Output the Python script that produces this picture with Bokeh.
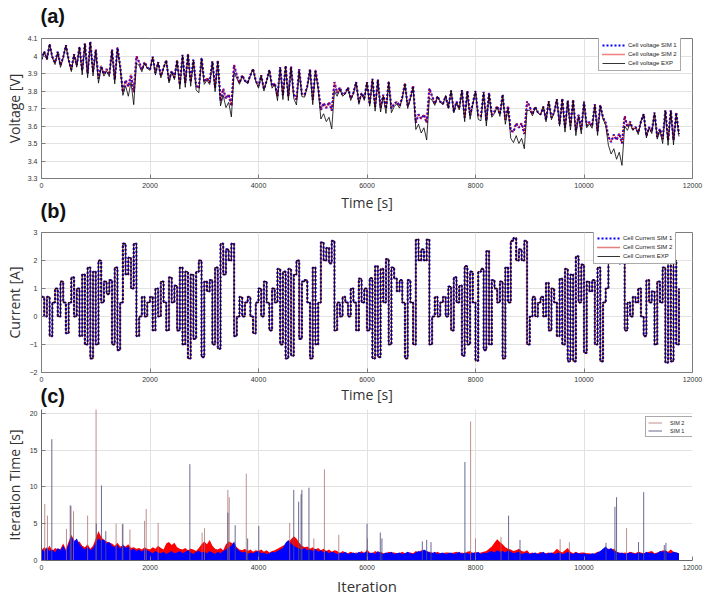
import numpy as np
from bokeh.plotting import figure
from bokeh.layouts import column
from bokeh.models import Range1d, FixedTicker, Legend, LegendItem
from bokeh.embed import file_html
from bokeh.resources import INLINE

# ---------------- data ----------------
time_s = np.arange(0, 11751, 50)          # sample times [s]
iteration = np.arange(0, 11751, 50)       # iteration index samples

current_exp = [
    0.7, 0, 0.7, -0.7, 0.5, 1.0, 0, 1.25, 0.5, -0.6,
    0.5, 1.4, 0, 1.0, -0.7, 1.5, -1.0, 1.75, -1.5, 1.6,
    -1.0, 2.0, 0.5, 1.25, 0.8, 1.3, -1.0, 1.75, -1.2, 0.5,
    2.6, 1.5, 2.1, 1.0, 2.6, -0.7, 0, 0.7, 0, 0.5,
    0.7, -0.5, 1.0, 0, 1.25, 0.5, -0.5, 1.4, 0.5, 1.1,
    -0.5, 1.75, -1.0, 1.6, -1.5, 1.5, -0.8, 1.6, 2.0, -1.45,
    1.25, 0.9, 1.3, -1.0, 1.75, -1.15, 2.6, 1.5, 2.4, 2.0,
    2.6, -0.7, 0, 0.7, 0, 0.5, 0.7, 0, -0.6, 0.5,
    1.0, 0, 1.25, 0.5, -0.5, 1.0, 0.5, 1.7, -1.0, 1.6,
    -1.5, 1.7, -1.4, 1.5, 2.0, -0.8, 1.25, 1.3, 0.5, -1.5,
    1.75, -1.0, 0.5, 2.65, 2.0, 2.45, 1.9, 2.7, -0.5, 0.5,
    0, 0.7, 0.5, 0, 1.0, 0.5, -0.5, 1.35, 0.5, 1.0,
    -0.5, 1.37, -1.5, 1.8, -1.45, 1.7, 0.5, 2.05, -1.0, 1.75,
    1.35, 0.9, 1.3, 0.5, -1.5, 1.3, 0.5, -1.0, 2.75, 2.0,
    2.4, 2.0, 2.75, -1.0, 0, 0.7, 0, 0.5, 0.7, 0,
    1.07, -0.5, 1.4, 0.5, 1.1, -1.4, 1.8, -1.0, 1.6, 0.5,
    -1.58, 1.6, 1.7, -1.2, 2.34, -1.0, 1.3, 1.0, 0.5, 1.25,
    -1.5, 1.75, 0.5, 2.7, 2.8, 2.0, 2.4, 2.0, 2.7, -1.0,
    0, 0.7, 0, 0.5, 0.7, 0, 1.2, -0.5, 1.0, 0.5,
    -0.7, 1.35, -1.0, 1.7, -1.6, 1.5, -1.6, 2.15, 0.5, 1.85,
    -1.3, 1.25, 0.9, 1.3, -1.0, 1.75, -1.6, 0.5, 1.0, 2.2,
    2.7, 2.0, 2.5, 1.9, 2.8, -0.5, 0.5, 0, 0.7, 0.5,
    1.0, 0, -0.7, 1.3, 0.5, 0.9, -1.0, 1.25, 0.5, 1.75,
    -1.65, 2.1, -1.6, 2.0, -1.0, 1.0,
]
# both simulations are driven by the measured current
current_sim1 = list(current_exp)
current_sim2 = list(current_exp)

voltage_sim1 = [
    3.982, 4.025, 3.982, 4.068, 3.994, 3.963, 4.025, 3.947, 3.994, 4.062,
    3.979, 3.923, 4.010, 3.948, 4.053, 3.917, 4.072, 3.901, 4.082, 3.911,
    4.037, 3.870, 3.944, 3.897, 3.925, 3.894, 4.037, 3.866, 4.049, 3.944,
    3.794, 3.862, 3.825, 3.893, 3.794, 3.998, 3.965, 3.922, 3.965, 3.934,
    3.922, 3.996, 3.903, 3.965, 3.887, 3.934, 3.976, 3.858, 3.914, 3.877,
    3.976, 3.836, 4.007, 3.846, 4.012, 3.852, 3.980, 3.831, 3.815, 3.990,
    3.852, 3.874, 3.849, 3.970, 3.821, 3.975, 3.744, 3.812, 3.756, 3.781,
    3.715, 3.948, 3.890, 3.847, 3.890, 3.859, 3.847, 3.890, 3.927, 3.859,
    3.828, 3.890, 3.812, 3.859, 3.921, 3.828, 3.844, 3.770, 3.937, 3.776,
    3.945, 3.770, 3.940, 3.782, 3.751, 3.925, 3.782, 3.779, 3.829, 3.925,
    3.751, 3.922, 3.824, 3.691, 3.731, 3.703, 3.737, 3.688, 3.851, 3.789,
    3.820, 3.777, 3.789, 3.820, 3.758, 3.789, 3.851, 3.736, 3.789, 3.758,
    3.851, 3.725, 3.870, 3.710, 3.865, 3.705, 3.779, 3.700, 3.855, 3.701,
    3.726, 3.739, 3.714, 3.764, 3.845, 3.714, 3.764, 3.830, 3.619, 3.666,
    3.641, 3.666, 3.619, 3.815, 3.770, 3.727, 3.770, 3.739, 3.727, 3.770,
    3.704, 3.801, 3.683, 3.739, 3.702, 3.805, 3.648, 3.800, 3.661, 3.729,
    3.800, 3.661, 3.655, 3.795, 3.630, 3.790, 3.664, 3.683, 3.714, 3.667,
    3.780, 3.636, 3.714, 3.573, 3.566, 3.616, 3.591, 3.616, 3.555, 3.740,
    3.710, 3.667, 3.710, 3.679, 3.667, 3.710, 3.636, 3.741, 3.648, 3.679,
    3.753, 3.611, 3.757, 3.590, 3.745, 3.602, 3.750, 3.575, 3.664, 3.580,
    3.740, 3.602, 3.624, 3.599, 3.725, 3.571, 3.720, 3.649, 3.618, 3.539,
    3.508, 3.551, 3.520, 3.557, 3.501, 3.656, 3.594, 3.625, 3.582, 3.594,
    3.563, 3.625, 3.668, 3.544, 3.594, 3.569, 3.677, 3.537, 3.584, 3.525,
    3.690, 3.520, 3.690, 3.520, 3.677, 3.553,
]
voltage_sim2 = list(voltage_sim1)

voltage_exp = [
    3.978, 4.025, 3.978, 4.068, 3.990, 3.951, 4.022, 3.935, 3.990, 4.060,
    3.975, 3.911, 4.008, 3.936, 4.050, 3.892, 4.068, 3.876, 4.078, 3.886,
    4.030, 3.845, 3.936, 3.885, 3.913, 3.882, 4.030, 3.841, 4.040, 3.930,
    3.775, 3.830, 3.770, 3.850, 3.722, 3.960, 3.945, 3.910, 3.958, 3.930,
    3.918, 3.994, 3.891, 3.963, 3.875, 3.930, 3.974, 3.846, 3.910, 3.865,
    3.974, 3.811, 4.003, 3.821, 4.008, 3.827, 3.975, 3.806, 3.790, 3.985,
    3.838, 3.862, 3.837, 3.966, 3.796, 3.968, 3.715, 3.775, 3.705, 3.735,
    3.652, 3.905, 3.872, 3.838, 3.885, 3.855, 3.843, 3.888, 3.925, 3.855,
    3.816, 3.888, 3.800, 3.855, 3.919, 3.816, 3.840, 3.745, 3.932, 3.751,
    3.940, 3.745, 3.935, 3.757, 3.720, 3.915, 3.768, 3.765, 3.822, 3.920,
    3.722, 3.915, 3.810, 3.640, 3.670, 3.625, 3.650, 3.583, 3.800, 3.770,
    3.808, 3.770, 3.784, 3.818, 3.746, 3.785, 3.849, 3.724, 3.785, 3.746,
    3.849, 3.713, 3.866, 3.685, 3.861, 3.680, 3.772, 3.672, 3.850, 3.676,
    3.710, 3.727, 3.702, 3.758, 3.840, 3.700, 3.755, 3.822, 3.580, 3.610,
    3.560, 3.590, 3.520, 3.760, 3.748, 3.718, 3.768, 3.735, 3.723, 3.775,
    3.700, 3.805, 3.675, 3.735, 3.692, 3.803, 3.625, 3.796, 3.638, 3.723,
    3.798, 3.638, 3.630, 3.790, 3.600, 3.782, 3.650, 3.671, 3.708, 3.655,
    3.776, 3.610, 3.702, 3.530, 3.505, 3.545, 3.500, 3.530, 3.470, 3.690,
    3.690, 3.658, 3.706, 3.675, 3.663, 3.712, 3.624, 3.742, 3.636, 3.675,
    3.752, 3.599, 3.752, 3.565, 3.742, 3.577, 3.746, 3.545, 3.655, 3.555,
    3.735, 3.590, 3.612, 3.587, 3.720, 3.546, 3.716, 3.640, 3.603, 3.490,
    3.440, 3.470, 3.410, 3.450, 3.375, 3.600, 3.575, 3.615, 3.575, 3.590,
    3.551, 3.628, 3.668, 3.532, 3.590, 3.557, 3.674, 3.525, 3.578, 3.500,
    3.686, 3.490, 3.686, 3.492, 3.670, 3.540,
]

iter_time_sim1 = [
    1.6, 1.2, 1.8, 1.3, 1.5, 1.1, 1.7, 1.4, 2.0, 1.3,
    2.2, 3.3, 2.6, 3.0, 2.2, 1.8, 1.5, 1.9, 1.4, 1.7,
    2.4, 3.0, 2.7, 2.9, 2.3, 2.5, 2.0, 1.8, 2.1, 1.6,
    2.2, 1.7, 1.9, 1.4, 1.6, 1.3, 1.5, 1.2, 1.6, 1.4,
    1.2, 1.0, 1.3, 1.1, 1.0, 1.2, 0.9, 1.1, 1.3, 1.0,
    1.1, 1.3, 1.0, 1.2, 1.4, 1.1, 0.9, 1.2, 1.3, 1.1,
    1.2, 1.0, 1.3, 1.1, 0.9, 1.2, 1.0, 1.3, 1.5, 1.8,
    2.0, 2.6, 1.6, 1.3, 1.1, 1.2, 0.9, 1.1, 1.0, 1.2,
    1.3, 1.0, 1.1, 0.9, 1.0, 1.2, 1.1, 1.3, 1.5, 1.7,
    2.4, 2.8, 2.3, 2.0, 1.8, 1.6, 1.5, 1.7, 1.4, 1.5,
    1.3, 1.6, 1.2, 1.4, 1.1, 1.3, 1.0, 1.2, 1.1, 0.9,
    1.1, 1.0, 1.2, 0.9, 1.0, 1.1, 0.9, 1.2, 1.0, 1.1,
    1.2, 1.0, 1.1, 0.9, 1.3, 1.0, 0.9, 1.1, 1.0, 1.2,
    0.9, 1.0, 1.1, 0.9, 1.0, 1.2, 1.0, 0.9, 1.1, 1.3,
    1.2, 1.5, 1.3, 1.1, 1.0, 1.2, 0.9, 1.0, 1.1, 0.9,
    1.0, 1.1, 0.9, 1.0, 1.2, 0.9, 1.1, 1.0, 0.9, 1.1,
    1.0, 1.2, 0.9, 1.1, 1.0, 1.2, 1.3, 1.1, 1.4, 1.2,
    1.3, 1.1, 1.4, 1.2, 1.0, 1.1, 1.2, 0.9, 1.0, 1.1,
    0.9, 1.0, 1.1, 0.9, 1.0, 1.2, 0.9, 1.0, 1.1, 0.9,
    1.0, 1.1, 0.9, 1.0, 1.2, 1.0, 0.9, 1.1, 1.0, 0.9,
    1.0, 0.9, 0.8, 1.0, 0.9, 1.1, 1.3, 1.6, 1.9, 1.5,
    1.7, 1.3, 1.2, 1.0, 1.1, 0.9, 1.0, 1.1, 1.0, 0.9,
    1.1, 1.0, 0.9, 1.2, 1.0, 1.1, 0.9, 1.0, 1.3, 1.2,
    1.4, 1.1, 1.0, 1.2, 1.1, 1.0,
]
iter_time_sim2 = [
    1.4, 1.8, 1.5, 2.0, 1.3, 1.7, 1.5, 1.6, 2.3, 1.5,
    2.6, 3.5, 2.8, 2.4, 2.6, 2.0, 1.8, 2.2, 1.6, 2.0,
    3.0, 4.0, 3.2, 2.8, 2.6, 2.4, 2.3, 2.0, 2.4, 1.9,
    2.0, 1.9, 2.2, 1.7, 1.8, 1.6, 1.7, 1.5, 1.8, 1.6,
    1.5, 1.8, 1.6, 2.0, 1.7, 1.5, 2.3, 2.5, 2.1, 2.4,
    1.8, 1.6, 1.5, 1.7, 1.4, 1.6, 1.5, 1.3, 1.7, 2.2,
    2.6, 2.2, 2.8, 2.0, 1.6, 1.5, 1.7, 1.4, 2.2, 2.6,
    2.4, 2.2, 1.8, 1.5, 1.4, 1.6, 1.3, 1.5, 1.2, 1.4,
    1.3, 1.5, 1.2, 1.4, 1.1, 1.3, 1.4, 1.6, 1.8, 2.0,
    2.2, 2.5, 2.9, 3.3, 3.0, 2.4, 2.0, 1.8, 1.9, 1.6,
    1.8, 1.5, 1.7, 1.4, 1.6, 1.3, 1.5, 1.2, 1.4, 1.3,
    1.0, 1.3, 1.1, 1.0, 1.2, 1.0, 1.1, 1.0, 1.3, 1.0,
    1.5, 1.1, 1.0, 1.3, 1.1, 1.2, 1.0, 1.0, 1.2, 1.1,
    1.1, 1.0, 1.0, 1.2, 1.0, 1.1, 1.1, 1.0, 1.3, 1.1,
    1.4, 1.3, 1.2, 1.2, 1.1, 1.0, 1.2, 1.0, 1.0, 1.1,
    1.1, 1.0, 1.1, 1.2, 1.0, 1.1, 1.0, 1.2, 1.3, 1.0,
    1.2, 1.0, 1.1, 1.2, 1.3, 1.6, 1.9, 2.4, 2.9, 2.5,
    2.2, 1.8, 1.6, 1.5, 1.3, 1.4, 1.6, 1.3, 1.2, 1.4,
    1.0, 1.1, 0.9, 1.0, 1.2, 1.0, 1.0, 1.1, 1.0, 1.2,
    1.6, 1.3, 1.1, 1.4, 1.7, 1.2, 1.0, 1.2, 1.0, 1.1,
    1.1, 1.0, 1.0, 0.9, 1.0, 1.2, 1.2, 1.4, 1.5, 1.6,
    1.5, 1.6, 1.2, 1.1, 1.0, 1.1, 1.0, 1.2, 1.1, 1.0,
    1.2, 1.1, 1.0, 1.1, 1.2, 1.3, 1.0, 1.1, 1.2, 1.4,
    1.3, 1.2, 1.5, 1.2, 1.1, 1.0,
]

spike_iter_sim1 = [190, 530, 1010, 1105, 1185, 1500, 2735, 3435, 3570, 3800,
                   4005, 4650, 4740, 4785, 4800, 4930, 6000, 6245, 6275, 7020,
                   7100, 7180, 7805, 8610, 8820, 10405, 10570, 10600, 11005, 11100,
                   11480, 11510]
spike_time_sim1 = [16.5, 7.5, 5.0, 10.2, 4.0, 5.0, 13.1, 6.5, 4.8, 3.0,
                   4.7, 9.6, 8.0, 9.0, 9.6, 9.9, 5.0, 3.8, 3.0, 2.6,
                   2.8, 2.5, 13.4, 6.1, 2.8, 2.4, 7.3, 8.6, 2.5, 9.3,
                   2.1, 2.4]
spike_iter_sim2 = [60, 110, 460, 545, 590, 850, 1006, 1375, 1490, 1630,
                   1900, 1930, 2150, 2960, 3005, 3435, 3460, 3775, 4575, 5020,
                   5215, 5480, 6010, 7910, 8000, 8470, 9560, 9730, 10785]
spike_time_sim2 = [7.7, 6.1, 4.3, 7.4, 6.7, 6.1, 20.6, 5.0, 4.9, 4.2,
                   5.4, 7.0, 5.1, 3.8, 4.4, 9.6, 8.6, 11.8, 5.1, 3.0,
                   12.4, 3.5, 3.0, 18.9, 3.0, 3.2, 2.9, 2.5, 4.4]

x_ticks = [0, 2000, 4000, 6000, 8000, 10000, 12000]
v_ticks = [3.3, 3.4, 3.5, 3.6, 3.7, 3.8, 3.9, 4.0, 4.1]
i_ticks = [-2, -1, 0, 1, 2, 3]
t_ticks = [0, 5, 10, 15, 20]

# ---------------- styling helpers ----------------
GRID = "#e2e2e2"
BOX = "#7d7d7d"
TICK_FONT = "Liberation Sans"
LABEL_FONT = "Open Sans"
TXT = "#333333"


def make_fig(height, top, bottom, yr, yticks, box=True):
    p = figure(width=708, height=height, x_range=Range1d(0, 12000), y_range=Range1d(*yr),
               output_backend="svg", toolbar_location=None,
               min_border_left=41, min_border_right=16,
               min_border_top=top, min_border_bottom=bottom)
    p.background_fill_color = "white"
    p.border_fill_color = None
    p.xaxis.ticker = FixedTicker(ticks=x_ticks)
    p.yaxis.ticker = FixedTicker(ticks=yticks)
    p.xgrid.ticker = FixedTicker(ticks=x_ticks)
    p.ygrid.ticker = FixedTicker(ticks=yticks)
    for g in (p.xgrid[0], p.ygrid[0]):
        g.grid_line_color = GRID
        g.grid_line_width = 1
    for ax in (p.xaxis[0], p.yaxis[0]):
        ax.major_label_text_font = TICK_FONT
        ax.major_label_text_font_size = "7px"
        ax.major_label_text_color = TXT
        ax.axis_line_color = BOX
        ax.major_tick_line_color = BOX
        ax.major_tick_in = 4
        ax.major_tick_out = 0
        ax.minor_tick_line_color = None
        ax.major_label_standoff = 4
        ax.axis_label_text_font = LABEL_FONT
        ax.axis_label_text_font_style = "normal"
        ax.axis_label_text_color = TXT
        ax.axis_label_text_font_size = "14px"
    if box:
        p.outline_line_color = BOX
        p.outline_line_width = 1
        p.outline_line_alpha = 1
    else:
        p.outline_line_color = None
    return p


def panel_title(p, text, standoff):
    t = p.title
    t.text = text
    t.align = "left"
    t.vertical_align = "bottom"
    t.standoff = standoff
    t.offset = -1
    t.text_font = "Liberation Sans"
    t.text_font_size = "20px"
    t.text_font_style = "bold"
    t.text_color = "#111111"


def style_legend(leg, loc):
    leg.location = loc
    leg.label_text_font = TICK_FONT
    leg.label_text_font_size = "6px"
    leg.label_text_color = "#222222"
    leg.glyph_width = 23
    leg.glyph_height = 8
    leg.label_height = 8
    leg.label_standoff = 3
    leg.spacing = 1
    leg.padding = 3
    leg.margin = 0
    leg.border_line_color = "#555555"
    leg.border_line_width = 1
    leg.background_fill_color = "white"
    leg.background_fill_alpha = 1


# ---------------- (a) voltage ----------------
pa = make_fig(228, 52, 36, (3.3, 4.1), v_ticks)
pa.margin = (-14, 0, 0, 0)
panel_title(pa, "(a)", 23)
pa.yaxis[0].major_label_overrides = {4.0: "4"}
pa.yaxis[0].axis_label = "Voltage [V]"
pa.yaxis[0].axis_label_standoff = 1
pa.xaxis[0].axis_label = "Time [s]"
pa.xaxis[0].axis_label_standoff = 2
ra1 = pa.line(time_s, voltage_sim1, line_color="#0000ff", line_width=2.2, line_dash="2 2")
ra2 = pa.line(time_s, voltage_sim2, line_color="#e00000", line_width=1.3, line_dash="1 1")
ra3 = pa.line(time_s, voltage_exp, line_color="#000000", line_width=0.8)
lega = Legend(items=[LegendItem(label="Cell voltage SIM 1", renderers=[ra1]),
                     LegendItem(label="Cell voltage SIM 2", renderers=[ra2]),
                     LegendItem(label="Cell voltage EXP", renderers=[ra3])])
style_legend(lega, (557, 107))
pa.add_layout(lega)

# ---------------- (b) current ----------------
pb = make_fig(226, 50, 36, (-2, 3), i_ticks)
pb.margin = (-32, 0, 0, 0)
panel_title(pb, "(b)", 21)
pb.yaxis[0].axis_label = "Current [A]"
pb.yaxis[0].axis_label_standoff = 3
pb.xaxis[0].axis_label = "Time [s]"
pb.xaxis[0].axis_label_standoff = 0
rb1 = pb.step(time_s, current_sim1, mode="after", line_color="#0000ff", line_width=2.2, line_dash="2 2")
rb2 = pb.step(time_s, current_sim2, mode="after", line_color="#c00000", line_width=1.3, line_dash="1 1")
rb3 = pb.step(time_s, current_exp, mode="after", line_color="#000000", line_width=0.8)
legb = Legend(items=[LegendItem(label="Cell Current SIM 1", renderers=[rb1]),
                     LegendItem(label="Cell Current SIM 2", renderers=[rb2]),
                     LegendItem(label="Cell Current EXP", renderers=[rb3])])
style_legend(legb, (552, 108))
pb.add_layout(legb)

# ---------------- (c) iteration time ----------------
pc = make_fig(221, 32, 35, (0, 20.53), t_ticks, box=False)
pc.margin = (-31, 0, 0, 0)
panel_title(pc, "(c)", 5)
pc.xaxis[0].axis_line_color = "#666666"
pc.yaxis[0].axis_line_color = "#666666"
pc.yaxis[0].axis_label = "Iteration Time [s]"
pc.yaxis[0].axis_label_standoff = 3
pc.xaxis[0].axis_label = "Iteration"
pc.xaxis[0].axis_label_text_font_size = "15px"
pc.xaxis[0].axis_label_standoff = 3
pc.varea(x=iteration, y1=0, y2=iter_time_sim2, fill_color="#ff0000")
pc.varea(x=iteration, y1=0, y2=iter_time_sim1, fill_color="#0000ff")
rc2 = pc.segment(x0=spike_iter_sim2, y0=0, x1=spike_iter_sim2, y1=spike_time_sim2,
                 line_color="#a86a6a", line_alpha=0.75, line_width=1)
rc1 = pc.segment(x0=spike_iter_sim1, y0=0, x1=spike_iter_sim1, y1=spike_time_sim1,
                 line_color="#4f4f80", line_alpha=0.85, line_width=1)
legc = Legend(items=[LegendItem(label="SIM 2", renderers=[rc2]),
                     LegendItem(label="SIM 1", renderers=[rc1])])
style_legend(legc, (604, 123))
legc.glyph_width = 14
legc.glyph_height = 7
legc.label_height = 7
legc.padding = 2
legc.label_standoff = 8
legc.label_text_font_size = "5.5px"
pc.add_layout(legc)

layout = column(pa, pb, pc, spacing=0)
open("out.html", "w").write(file_html(layout, INLINE))
